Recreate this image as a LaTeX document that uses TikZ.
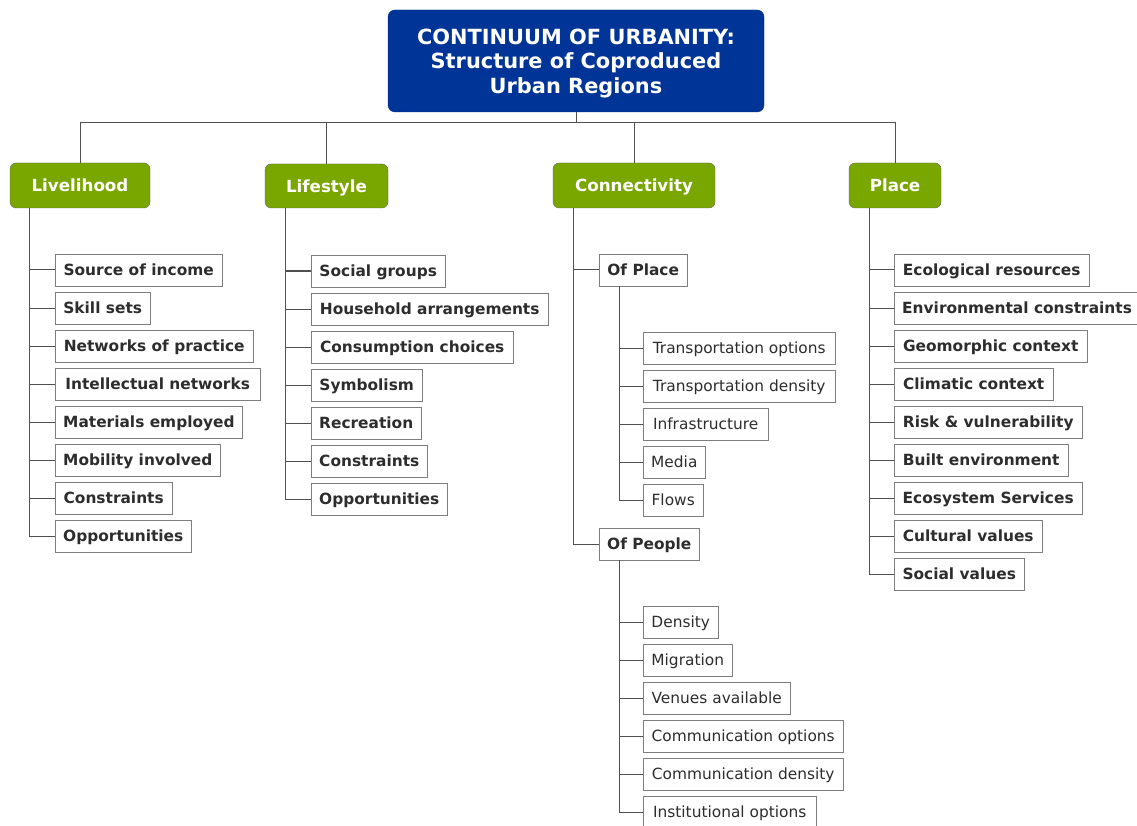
\documentclass[tikz,border=0pt]{standalone}
\usepackage{fontspec}
\setmainfont{DejaVu Sans}
\definecolor{titleblue}{RGB}{0,52,150}
\definecolor{catgreen}{RGB}{122,166,0}
\definecolor{linegray}{RGB}{80,80,80}
\definecolor{boxgray}{RGB}{125,125,125}
\definecolor{txt}{RGB}{45,45,45}
\begin{document}
\begin{tikzpicture}[x=1pt,y=-1pt,
 titlebox/.style={draw=titleblue!85!black, fill=titleblue, rounded corners=7pt, minimum width=376pt, minimum height=102pt, inner sep=0pt},
 titletext/.style={text=white, font=\fontsize{20.9}{24.6}\selectfont\bfseries, align=center, inner sep=0pt, anchor=north},
 catbox/.style={draw=black!60, fill=catgreen, rounded corners=6pt, text=white, font=\fontsize{16.7}{20}\selectfont\bfseries, minimum height=45pt, inner sep=0pt, text height=12.2pt, text depth=0pt},
 leaf/.style={draw=boxgray, fill=white, anchor=west, minimum height=32pt, inner xsep=8pt, inner ysep=0pt, text=txt, font=\fontsize{15.4}{18}\selectfont\bfseries, text height=11.2pt, text depth=0pt},
 leafr/.style={leaf, font=\fontsize{15.4}{18}\selectfont},
 conn/.style={draw=linegray, line width=1pt}
]
\useasboundingbox (0,0) rectangle (1137,826);
\fill[white] (0,0) rectangle (1137,826);

% title
\node[titlebox] (title) at (576,61) {};
\node[titletext] (titlet) at (576,28.3) {CONTINUUM OF URBANITY:\\Structure of Coproduced\\Urban Regions};

% categories
\node[catbox, minimum width=140pt] (liv) at (80,185.5) {Livelihood};
\node[catbox, minimum width=123pt, minimum height=44pt] (life) at (326.5,186) {Lifestyle};
\node[catbox, minimum width=162pt] (con) at (634,185.5) {Connectivity};
\node[catbox, minimum width=92pt] (pla) at (895,185.5) {Place};

\draw[conn] (title.south) -- ++(0,10) coordinate (bar);
\draw[conn] (bar) -| (liv.north);
\draw[conn] (bar) -| (life.north);
\draw[conn] (bar) -| (con.north);
\draw[conn] (bar) -| (pla.north);

% Livelihood
\node[leaf, minimum width=167pt] (a1) at (55,270) {Source of income};
\node[leaf, minimum width=95pt] (a2) at (55,308) {Skill sets};
\node[leaf, minimum width=198pt] (a3) at (55,346) {Networks of practice};
\node[leaf, minimum width=205pt] (a4) at (55,384) {Intellectual networks};
\node[leaf, minimum width=187pt] (a5) at (55,422) {Materials employed};
\node[leaf, minimum width=165pt] (a6) at (55,460) {Mobility involved};
\node[leaf, minimum width=117pt] (a7) at (55,498) {Constraints};
\node[leaf, minimum width=136pt] (a8) at (55,536) {Opportunities};
\foreach \n in {a1,a2,a3,a4,a5,a6,a7,a8}
  \draw[conn] ([xshift=20pt]liv.south west) |- (\n.west);

% Lifestyle
\node[leaf, minimum width=134pt] (b1) at (311,271) {Social groups};
\node[leaf, minimum width=237pt] (b2) at (311,309) {Household arrangements};
\node[leaf, minimum width=202pt] (b3) at (311,347) {Consumption choices};
\node[leaf, minimum width=111pt] (b4) at (311,385) {Symbolism};
\node[leaf, minimum width=110pt] (b5) at (311,423) {Recreation};
\node[leaf, minimum width=116pt] (b6) at (311,461) {Constraints};
\node[leaf, minimum width=136pt] (b7) at (311,499) {Opportunities};
\foreach \n in {b1,b2,b3,b4,b5,b6,b7}
  \draw[conn] ([xshift=21pt]life.south west) |- (\n.west);

% Connectivity
\node[leaf, minimum width=88pt] (op) at (599,270) {Of Place};
\node[leaf, minimum width=100pt] (ope) at (599,544) {Of People};
\draw[conn] ([xshift=21pt]con.south west) |- (op.west);
\draw[conn] ([xshift=21pt]con.south west) |- (ope.west);

\node[leafr, minimum width=192pt] (c1) at (643,348) {Transportation options};
\node[leafr, minimum width=192pt] (c2) at (643,386) {Transportation density};
\node[leafr, minimum width=125pt] (c3) at (643,424) {Infrastructure};
\node[leafr, minimum width=62pt] (c4) at (643,462) {Media};
\node[leafr, minimum width=60pt] (c5) at (643,500) {Flows};
\foreach \n in {c1,c2,c3,c4,c5}
  \draw[conn] ([xshift=20pt]op.south west) |- (\n.west);

\node[leafr, minimum width=75pt] (d1) at (643,622) {Density};
\node[leafr, minimum width=89pt] (d2) at (643,660) {Migration};
\node[leafr, minimum width=147pt] (d3) at (643,698) {Venues available};
\node[leafr, minimum width=200pt] (d4) at (643,736) {Communication options};
\node[leafr, minimum width=200pt] (d5) at (643,774) {Communication density};
\node[leafr, minimum width=173pt] (d6) at (643,812) {Institutional options};
\foreach \n in {d1,d2,d3,d4,d5,d6}
  \draw[conn] ([xshift=20pt]ope.south west) |- (\n.west);

% Place
\node[leaf, minimum width=195pt] (e1) at (894,270) {Ecological resources};
\node[leaf, minimum width=245pt] (e2) at (894,308) {Environmental constraints};
\node[leaf, minimum width=193pt] (e3) at (894,346) {Geomorphic context};
\node[leaf, minimum width=159pt] (e4) at (894,384) {Climatic context};
\node[leaf, minimum width=188pt] (e5) at (894,422) {Risk \& vulnerability};
\node[leaf, minimum width=174pt] (e6) at (894,460) {Built environment};
\node[leaf, minimum width=188pt] (e7) at (894,498) {Ecosystem Services};
\node[leaf, minimum width=148pt] (e8) at (894,536) {Cultural values};
\node[leaf, minimum width=130pt] (e9) at (894,574) {Social values};
\foreach \n in {e1,e2,e3,e4,e5,e6,e7,e8,e9}
  \draw[conn] ([xshift=21pt]pla.south west) |- (\n.west);
\end{tikzpicture}
\end{document}
